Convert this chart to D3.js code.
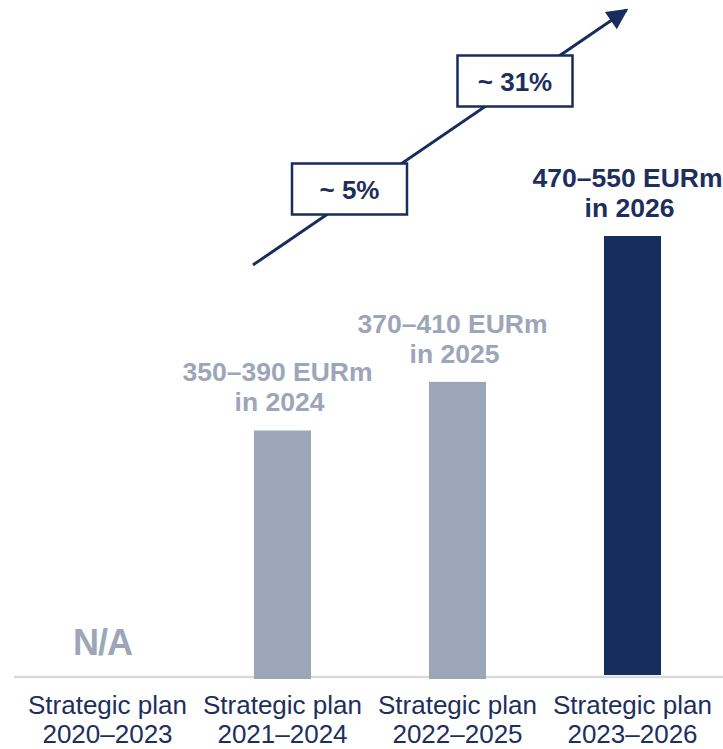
<!DOCTYPE html>
<html>
<head>
<meta charset="utf-8">
<script src="https://cdn.jsdelivr.net/npm/d3@7"></script>
<style>
  html, body { margin: 0; padding: 0; background: #ffffff; }
  svg { display: block; }
  text { font-family: "Liberation Sans", Arial, sans-serif; }
</style>
</head>
<body>
<svg id="chart" width="723" height="749"></svg>
<script>
// Strategic plans along the x axis
const plans = ["2020–2023", "2021–2024", "2022–2025", "2023–2026"];
// Relative bar level (2023–2026 plan = 100); first plan has no target
const barLevel = [null, 56, 67, 100];
// Target labels shown above each bar
const targetRange = [null, "350–390 EURm", "370–410 EURm", "470–550 EURm"];
const targetYear = [null, "in 2024", "in 2025", "in 2026"];
// Growth between consecutive plans
const growthLabels = ["~ 5%", "~ 31%"];
const growthFrom = [1, 2];

const NAVY = "#172d5e";
const GREY = "#9da5b9";
const TEXT_NAVY = "#1d2f5d";

const svg = d3.select("#chart");
const W = 723, H = 749;
const baseY = 678;

const x = d3.scaleBand()
  .domain(plans)
  .range([20, 720])
  .paddingInner(0.674)
  .paddingOuter(0.337);

const y = d3.scaleLinear()
  .domain([0, 100])
  .range([baseY, 236]);

// baseline
svg.append("line")
  .attr("x1", 14).attr("x2", W)
  .attr("y1", baseY - 1).attr("y2", baseY - 1)
  .attr("stroke", "#d9d9d9")
  .attr("stroke-width", 2.5);

const rows = plans.map((p, i) => ({
  plan: p, level: barLevel[i], range: targetRange[i], year: targetYear[i], i
}));

// bars
svg.selectAll("rect.bar")
  .data(rows.filter(d => d.level != null))
  .join("rect")
  .attr("class", "bar")
  .attr("x", d => x(d.plan))
  .attr("width", x.bandwidth())
  .attr("y", d => y(d.level))
  .attr("height", d => baseY - y(d.level) + (d.i === 3 ? -3 : 1))
  .attr("fill", d => d.i === 3 ? NAVY : GREY);

// target labels above bars
const lbl = svg.selectAll("g.target")
  .data(rows.filter(d => d.level != null))
  .join("g")
  .attr("class", "target")
  .attr("transform", d => `translate(${x(d.plan) + x.bandwidth() / 2 - 5},${y(d.level)})`);

lbl.append("text")
  .attr("y", -49)
  .attr("text-anchor", "middle")
  .attr("font-size", 26.5)
  .attr("font-weight", "bold")
  .attr("fill", d => d.i === 3 ? TEXT_NAVY : GREY)
  .text(d => d.range);

lbl.append("text")
  .attr("x", 2)
  .attr("y", -19)
  .attr("text-anchor", "middle")
  .attr("font-size", 26.5)
  .attr("font-weight", "bold")
  .attr("fill", d => d.i === 3 ? TEXT_NAVY : GREY)
  .text(d => d.year);

// N/A marker for the plan without a target
svg.selectAll("text.na")
  .data(rows.filter(d => d.level == null))
  .join("text")
  .attr("class", "na")
  .attr("x", d => x(d.plan) + x.bandwidth() / 2 - 5)
  .attr("y", 655)
  .attr("text-anchor", "middle")
  .attr("font-size", 36)
  .attr("font-weight", "bold")
  .attr("letter-spacing", -1)
  .attr("fill", GREY)
  .text("N/A");

// category labels
const cat = svg.selectAll("text.cat")
  .data(plans)
  .join("text")
  .attr("class", "cat")
  .attr("text-anchor", "middle")
  .attr("font-size", 26)
  .attr("fill", TEXT_NAVY)
  .attr("x", d => x(d) + x.bandwidth() / 2);
cat.append("tspan").attr("y", 714).text("Strategic plan")
  .attr("x", d => x(d) + x.bandwidth() / 2);
cat.append("tspan").attr("y", 743).text(d => d)
  .attr("x", d => x(d) + x.bandwidth() / 2);

// growth arrow
const defs = svg.append("defs");
defs.append("marker")
  .attr("id", "arrowHead")
  .attr("viewBox", "0 0 10 10")
  .attr("refX", 9).attr("refY", 5)
  .attr("markerWidth", 7.5).attr("markerHeight", 7)
  .attr("markerUnits", "strokeWidth")
  .attr("orient", "auto")
  .append("path")
  .attr("d", "M0,0 L10,5 L0,10 Z")
  .attr("fill", NAVY);

const arrowStart = [x(plans[1]) - 1, 265];
const arrowEnd = [x(plans[3]) + x.bandwidth() / 2 - 6, 10];
svg.append("line")
  .attr("x1", arrowStart[0]).attr("y1", arrowStart[1])
  .attr("x2", arrowEnd[0]).attr("y2", arrowEnd[1])
  .attr("stroke", NAVY)
  .attr("stroke-width", 3)
  .attr("marker-end", "url(#arrowHead)");

// growth boxes
const boxW = 115, boxH = 51;
const boxCenters = [[349.5, 189], [515, 81]];
const box = svg.selectAll("g.growth")
  .data(growthLabels.map((t, k) => ({ t, k, from: growthFrom[k] })))
  .join("g")
  .attr("class", "growth")
  .attr("transform", d => {
    const cx = x(plans[d.from]) + x.bandwidth() / 2 + (d.k === 0 ? 67 : 57.5);
    return `translate(${cx},${boxCenters[d.k][1]})`;
  });

box.append("rect")
  .attr("x", -boxW / 2).attr("y", -boxH / 2)
  .attr("width", boxW).attr("height", boxH)
  .attr("fill", "#ffffff")
  .attr("stroke", NAVY)
  .attr("stroke-width", 2.5);

box.append("text")
  .attr("y", 10)
  .attr("text-anchor", "middle")
  .attr("font-size", 26)
  .attr("font-weight", "bold")
  .attr("fill", TEXT_NAVY)
  .text(d => d.t);
</script>
</body>
</html>
